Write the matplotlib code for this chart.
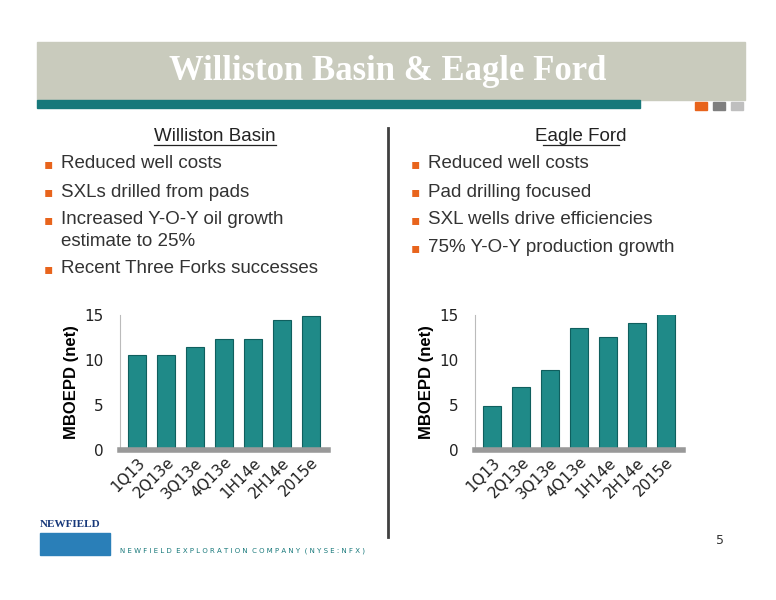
import matplotlib
matplotlib.use("Agg")
import matplotlib.pyplot as plt
from matplotlib.patches import Rectangle

categories = ["1Q13", "2Q13e", "3Q13e", "4Q13e", "1H14e", "2H14e", "2015e"]
williston = [10.6, 10.6, 11.5, 12.3, 12.3, 14.4, 14.9]
eagle = [4.9, 7.0, 8.9, 13.6, 12.6, 14.1, 15.1]
yticks = [0, 5, 10, 15]
left_bullets = [["Reduced well costs"], ["SXLs drilled from pads"],
                ["Increased Y-O-Y oil growth", "estimate to 25%"], ["Recent Three Forks successes"]]
right_bullets = [["Reduced well costs"], ["Pad drilling focused"],
                 ["SXL wells drive efficiencies"], ["75% Y-O-Y production growth"]]

fig = plt.figure(figsize=(7.76, 6), dpi=100)
W, H = 776, 600
def fx(x): return x / W
def fy(y): return 1 - y / H
def rect(x0, y0, x1, y1, c):
    fig.patches.append(Rectangle((fx(x0), fy(y1)), fx(x1 - x0), fy(y0) - fy(y1),
                                 transform=fig.transFigure, color=c, zorder=0))

rect(37, 42, 745, 100, "#c9cbbd")
rect(37, 100, 640, 108, "#17787a")
for x0, c in [(695, "#e8641c"), (713, "#7f7f7f"), (731, "#bfbfbf")]:
    rect(x0, 102, x0 + 12, 110, c)
t = fig.text(0.5, fy(72), "Williston Basin & Eagle Ford", ha="center", va="center",
             fontsize=25, color="white", fontweight="bold", family="Liberation Serif")

fig.add_artist(plt.Line2D([fx(388), fx(388)], [fy(128), fy(537)], color="#404040", lw=2))

for cx, title, xl, bl in [(215, "Williston Basin", 44, left_bullets), (581, "Eagle Ford", 411, right_bullets)]:
    fig.text(fx(cx), fy(137), title, ha="center", va="center", fontsize=13.5, color="#222",
             family="Liberation Sans")
    hw = 61 if cx == 215 else 38
    fig.add_artist(plt.Line2D([fx(cx - hw), fx(cx + hw)], [fy(145), fy(145)], color="#222", lw=0.9))
    y = 164
    for lines in bl:
        fig.text(fx(xl), fy(y), "\u25aa", ha="left", va="center", fontsize=10, color="#e8641c")
        for i, ln in enumerate(lines):
            fig.text(fx(xl + 17), fy(y + i * 22), ln, ha="left", va="center",
                     fontsize=13.5, color="#333", family="Liberation Sans")
        y += 28 + 21 * (len(lines) - 1)

for (l, vals) in [(120, williston), (475, eagle)]:
    ax = fig.add_axes([fx(l), fy(450), fx(208), fy(315) - fy(450)])
    ax.bar(range(len(vals)), vals, width=0.62, color="#1f8a88", edgecolor="#0f5f5e", lw=0.8)
    ax.set_ylim(0, 15)
    ax.set_xlim(-0.6, 6.6)
    ax.set_yticks(yticks)
    ax.set_xticks(range(len(categories)))
    ax.set_xticklabels(categories, rotation=45, ha="right", rotation_mode="anchor", fontsize=11,
                       color="#222")
    ax.tick_params(axis="y", labelsize=11, length=0, pad=12, labelcolor="#222")
    ax.tick_params(axis="x", length=0)
    for s in ["top", "right"]:
        ax.spines[s].set_visible(False)
    ax.spines["left"].set_color("#bbb")
    ax.spines["bottom"].set_color("#999")
    ax.spines["bottom"].set_linewidth(4)
    ax.set_ylabel("MBOEPD (net)", fontsize=12, fontweight="bold", family="Liberation Sans")

fig.text(fx(40), fy(527), "NEWFIELD", fontsize=8, fontweight="bold", color="#17387a",
         family="Liberation Serif")
rect(40, 533, 110, 555, "#2a7fb8")
fig.text(fx(120), fy(551), "N E W F I E L D  E X P L O R A T I O N  C O M P A N Y  ( N Y S E : N F X )",
         fontsize=5, color="#17787a", va="center")
fig.text(fx(716), fy(541), "5", fontsize=9, color="#333", va="center")

fig.savefig("out.png", dpi=100)
